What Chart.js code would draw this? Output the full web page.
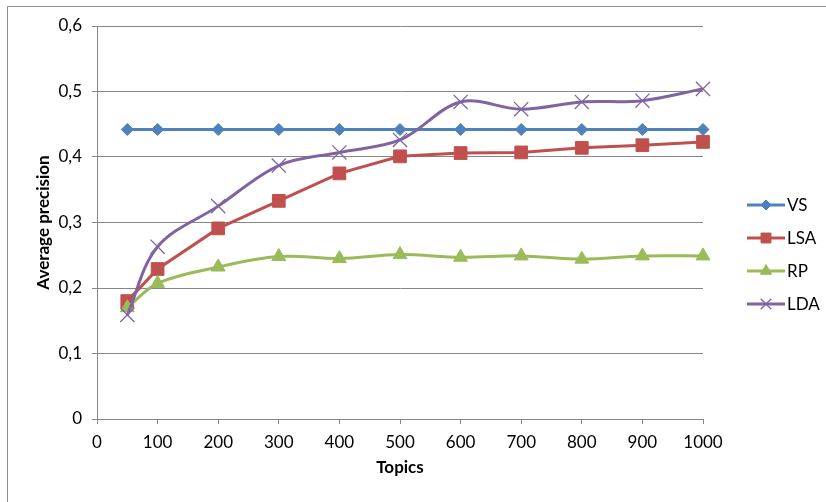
<!DOCTYPE html>
<html>
<head>
<meta charset="utf-8">
<title>Average precision by number of topics</title>
<script src="https://cdn.jsdelivr.net/npm/chart.js@4/dist/chart.umd.min.js"></script>
<style>
  html, body { margin: 0; padding: 0; background: #fff; }
  #wrap { width: 826px; height: 502px; position: relative; }
</style>
</head>
<body>
<div id="wrap"><canvas id="chart" width="826" height="502"></canvas></div>
<script>
// Number of topics on the x axis
const topics = [50, 100, 200, 300, 400, 500, 600, 700, 800, 900, 1000];

// Average precision per method
const vs  = [0.442, 0.442, 0.442, 0.442, 0.442, 0.442, 0.442, 0.442, 0.442, 0.442, 0.442];
const lsa = [0.180, 0.229, 0.291, 0.333, 0.375, 0.401, 0.406, 0.407, 0.414, 0.418, 0.423];
const rp  = [0.170, 0.207, 0.232, 0.248, 0.245, 0.251, 0.247, 0.249, 0.244, 0.249, 0.249];
const lda = [0.159, 0.263, 0.325, 0.387, 0.407, 0.426, 0.484, 0.473, 0.484, 0.486, 0.504];

// Axis tick labels (decimal comma)
const xTickLabels = ['0', '100', '200', '300', '400', '500', '600', '700', '800', '900', '1000'];
const yTickLabels = ['0', '0,1', '0,2', '0,3', '0,4', '0,5', '0,6'];

const FONT = 'Lato, "Open Sans", sans-serif';
const FONT_SIZE = 17;
const GRID = '#878787';

function points(values) {
  return topics.map((t, i) => ({ x: t, y: values[i] }));
}

// Outer frame (left and top edges)
const frame = {
  id: 'frame',
  beforeDraw(chart) {
    const ctx = chart.ctx;
    ctx.save();
    ctx.fillStyle = '#ffffff';
    ctx.fillRect(0, 0, chart.width, chart.height);
    ctx.strokeStyle = '#8c8c8c';
    ctx.lineWidth = 1;
    ctx.beginPath();
    ctx.moveTo(7.5, chart.height);
    ctx.lineTo(7.5, 6.5);
    ctx.lineTo(chart.width, 6.5);
    ctx.stroke();
    ctx.restore();
  }
};

// Legend on the right: a short line with the series marker, then the name
const sideLegend = {
  id: 'sideLegend',
  afterDraw(chart, args, opts) {
    const ctx = chart.ctx;
    chart.data.datasets.forEach((ds, i) => {
      const y = opts.top + i * opts.spacing;
      const x0 = opts.left;
      const x1 = opts.left + opts.lineLength;
      ctx.save();
      ctx.strokeStyle = ds.borderColor;
      ctx.lineWidth = ds.borderWidth;
      ctx.lineCap = 'butt';
      ctx.beginPath();
      ctx.moveTo(x0, y);
      ctx.lineTo(x1, y);
      ctx.stroke();
      ctx.fillStyle = ds.pointBackgroundColor;
      ctx.strokeStyle = ds.pointBorderColor;
      ctx.lineWidth = ds.pointBorderWidth;
      Chart.helpers.drawPoint(ctx, {
        pointStyle: ds.pointStyle,
        radius: ds.legendRadius,
        rotation: 0,
        borderWidth: ds.pointBorderWidth
      }, (x0 + x1) / 2, y);
      ctx.fillStyle = '#000000';
      ctx.font = FONT_SIZE + 'px ' + FONT;
      ctx.textBaseline = 'middle';
      ctx.textAlign = 'left';
      ctx.fillText(ds.label, x1 + 2, y + 1);
      ctx.restore();
    });
  }
};

function series(label, values, color, style, radius, legendRadius, tension, borderW, order) {
  return {
    label,
    data: points(values),
    borderColor: color,
    backgroundColor: color,
    pointBackgroundColor: color,
    pointBorderColor: color,
    pointBorderWidth: borderW,
    pointStyle: style,
    pointRadius: radius,
    legendRadius,
    borderWidth: 3,
    tension,
    fill: false,
    clip: false,
    order
  };
}

new Chart(document.getElementById('chart'), {
  type: 'line',
  data: {
    datasets: [
      series('VS',  vs,  '#4F81BD', 'rectRot',  6,   5,   0,    1,   4),
      series('LSA', lsa, '#C0504D', 'rect',     9,   7,   0,    1,   3),
      series('RP',  rp,  '#9BBB59', 'triangle', 8,   6.5, 0.35, 1,   2),
      series('LDA', lda, '#8064A2', 'crossRot', 10,  7.5, 0.35, 1.3, 1)
    ]
  },
  options: {
    responsive: false,
    animation: false,
    events: [],
    layout: { padding: { left: 0, top: 26, right: 123, bottom: 0 } },
    plugins: {
      legend: { display: false },
      tooltip: { enabled: false },
      sideLegend: { left: 747, top: 205, spacing: 33, lineLength: 38 }
    },
    scales: {
      x: {
        type: 'linear',
        min: 0,
        max: 1000,
        afterBuildTicks(scale) {
          scale.ticks = xTickLabels.map(v => ({ value: Number(v) }));
        },
        ticks: {
          callback: (v, i) => xTickLabels[i],
          color: '#000000',
          font: { family: FONT, size: FONT_SIZE },
          padding: 8,
          maxRotation: 0,
          autoSkip: false
        },
        grid: { drawOnChartArea: false, drawTicks: true, tickLength: 5, color: GRID },
        border: { color: GRID, width: 1 },
        title: {
          display: true,
          text: 'Topics',
          color: '#000000',
          font: { family: FONT, size: FONT_SIZE, weight: 'bold' },
          padding: { top: 0, bottom: 24 }
        },
        afterFit(scale) { scale.height = 83; }
      },
      y: {
        type: 'linear',
        min: 0,
        max: 0.6,
        afterBuildTicks(scale) {
          scale.ticks = yTickLabels.map((_, i) => ({ value: i / 10 }));
        },
        ticks: {
          callback: (v, i) => yTickLabels[i],
          color: '#000000',
          font: { family: FONT, size: FONT_SIZE },
          padding: 10
        },
        grid: { color: GRID, tickLength: 5, drawTicks: true },
        border: { color: GRID, width: 1 },
        title: {
          display: true,
          text: 'Average precision',
          color: '#000000',
          font: { family: FONT, size: FONT_SIZE, weight: 'bold' },
          padding: { top: 33, bottom: 0 }
        },
        afterFit(scale) { scale.width = 97; }
      }
    }
  },
  plugins: [frame, sideLegend]
});
</script>
</body>
</html>
